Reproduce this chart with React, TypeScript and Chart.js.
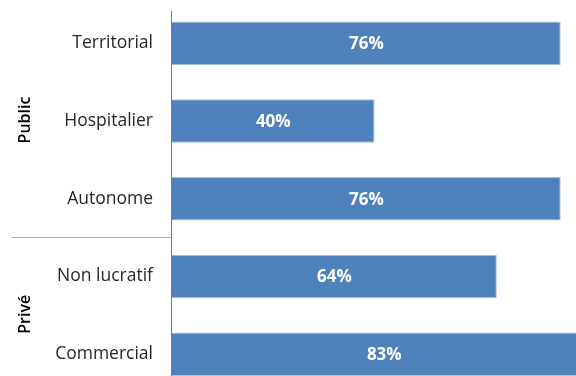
import React, { useEffect, useRef } from "react";
import { Chart, registerables } from "chart.js";

Chart.register(...registerables);

const categories = ["Territorial", "Hospitalier", "Autonome", "Non lucratif", "Commercial"];
const values = [76, 39.6, 76, 63.5, 83];
const groups = [
  { label: "Public", from: 0, to: 2 },
  { label: "Privé", from: 3, to: 4 },
];

const FONT = "'Open Sans', 'DejaVu Sans', sans-serif";

export default function App() {
  const ref = useRef<HTMLCanvasElement | null>(null);

  useEffect(() => {
    if (!ref.current) return;
    const overlay = {
      id: "overlay",
      beforeDatasetsDraw(chart: any) {
        const ctx = chart.ctx;
        const y = chart.scales.y;
        const area = chart.chartArea;
        ctx.save();
        // axis line
        ctx.strokeStyle = "#4F81BD";
        ctx.lineWidth = 1;
        ctx.beginPath();
        ctx.moveTo(area.left - 0.5, 11);
        ctx.lineTo(area.left - 0.5, chart.height);
        ctx.stroke();
        // group separators
        ctx.strokeStyle = "#8EB4E3";
        for (let g = 0; g < groups.length - 1; g++) {
          const a = y.getPixelForValue(groups[g].to);
          const b = y.getPixelForValue(groups[g + 1].from);
          const sy = Math.floor((a + b) / 2) + 0.5;
          ctx.beginPath();
          ctx.moveTo(12, sy);
          ctx.lineTo(area.left - 1, sy);
          ctx.stroke();
        }
        // group labels
        ctx.fillStyle = "#000";
        ctx.font = `600 16px ${FONT}`;
        ctx.textAlign = "center";
        ctx.textBaseline = "middle";
        for (const g of groups) {
          const cy = (y.getPixelForValue(g.from) + y.getPixelForValue(g.to)) / 2 - 1;
          ctx.save();
          ctx.translate(25, cy);
          ctx.rotate(-Math.PI / 2);
          ctx.fillText(g.label, 0, 0);
          ctx.restore();
        }
        ctx.restore();
      },
      afterDatasetsDraw(chart: any) {
        const ctx = chart.ctx;
        const meta = chart.getDatasetMeta(0);
        ctx.save();
        ctx.fillStyle = "#FFFFFF";
        ctx.font = `bold 17px ${FONT}`;
        ctx.textAlign = "center";
        ctx.textBaseline = "middle";
        meta.data.forEach((el: any, i: number) => {
          const p = el.getProps(["x", "y", "base"], true);
          ctx.fillText(Math.round(values[i]) + "%", (p.x + p.base) / 2, p.y + 1);
        });
        ctx.restore();
      },
    };

    const chart = new Chart(ref.current, {
      type: "bar",
      data: {
        labels: categories,
        datasets: [
          {
            data: values,
            backgroundColor: "#4F81BD",
            borderColor: "#A7C0DE",
            borderWidth: 1,
            barPercentage: 0.56,
            categoryPercentage: 1,
          },
        ],
      },
      options: {
        indexAxis: "y",
        responsive: false,
        animation: false,
        layout: { padding: { left: 0, top: 4.4, right: 16.5, bottom: 0 } },
        plugins: { legend: { display: false }, tooltip: { enabled: false } },
        scales: {
          x: { display: false, min: 0, max: 100 },
          y: {
            grid: { display: false, drawTicks: false },
            border: { display: false },
            ticks: {
              padding: 19,
              color: "#262626",
              font: { family: FONT, size: 17.5 },
            },
            afterFit(scale: any) {
              scale.width = 172;
              scale.paddingTop = 0;
              scale.paddingBottom = 0;
            },
          },
        },
      },
      plugins: [overlay],
    });
    return () => chart.destroy();
  }, []);

  return (
    <div
      style={{
        position: "fixed",
        left: 0,
        top: 0,
        width: 576,
        height: 376,
        overflow: "hidden",
        background: "#fff",
      }}
    >
      <canvas ref={ref} width={700} height={393} style={{ display: "block" }} />
    </div>
  );
}
